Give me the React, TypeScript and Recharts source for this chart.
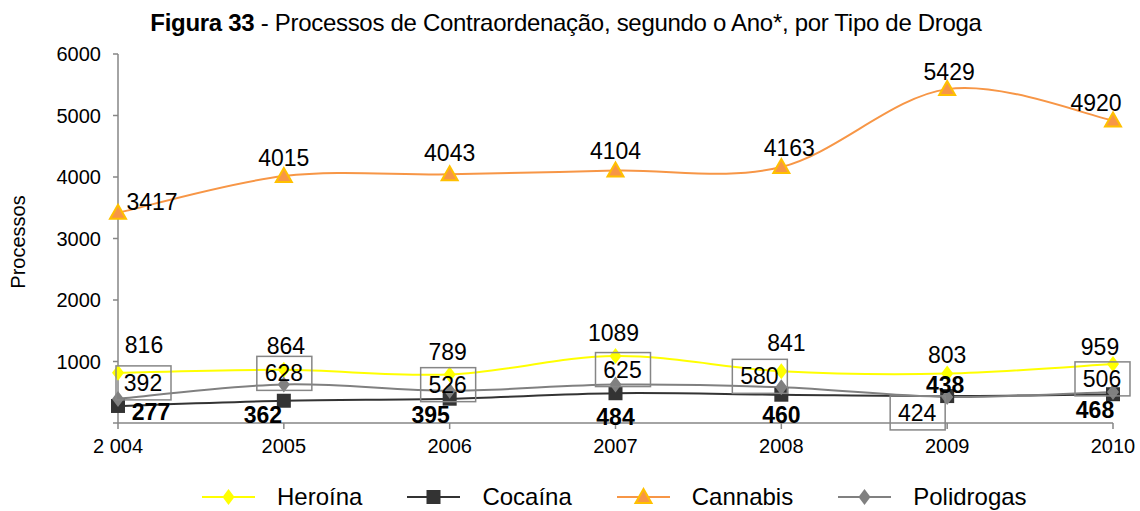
import React from 'react';
import { LineChart, Line, XAxis, YAxis, LabelList } from 'recharts';

const years = ['2 004', '2005', '2006', '2007', '2008', '2009', '2010'];
const heroina = [816, 864, 789, 1089, 841, 803, 959];
const cocaina = [277, 362, 395, 484, 460, 438, 468];
const cannabis = [3417, 4015, 4043, 4104, 4163, 5429, 4920];
const polidrogas = [392, 628, 526, 625, 580, 424, 506];
const yTicks = [0, 1000, 2000, 3000, 4000, 5000, 6000];

const rows = years.map((year, i) => ({
  year,
  heroina: heroina[i],
  cocaina: cocaina[i],
  cannabis: cannabis[i],
  polidrogas: polidrogas[i],
}));

// label placement relative to each point (dx, dy of text centre)
const heroinaOff: [number, number][] = [[26, -28], [2, -24], [-2, -22], [-2, -23], [5, -28], [0, -19], [-13, -17]];
const cocainaOff: [number, number][] = [[33, 6], [-21, 14], [-19, 16], [0, 24], [0, 20], [-2, -11], [-18, 16]];
const cannabisOff: [number, number][] = [[34, -11], [0, -18], [0, -21], [0, -20], [8, -19], [2, -17], [-17, -17]];
const polidrogasOff: [number, number][] = [[25, -16], [0, -11], [-2, -6], [7, -15], [-22, -11], [-30, 16], [-11, -13]];

const FONT = '"Liberation Sans", Arial, Helvetica, sans-serif';

// Excel-like smoothed line (Catmull-Rom through the points)
function smoothCurve(context: any) {
  let pts: [number, number][] = [];
  return {
    areaStart() {},
    areaEnd() {},
    lineStart() {
      pts = [];
    },
    point(x: number, y: number) {
      pts.push([+x, +y]);
    },
    lineEnd() {
      const n = pts.length;
      if (!n) return;
      context.moveTo(pts[0][0], pts[0][1]);
      for (let i = 0; i < n - 1; i++) {
        const p0 = pts[Math.max(i - 1, 0)];
        const p1 = pts[i];
        const p2 = pts[i + 1];
        const p3 = pts[Math.min(i + 2, n - 1)];
        context.bezierCurveTo(
          p1[0] + (p2[0] - p0[0]) / 6,
          p1[1] + (p2[1] - p0[1]) / 6,
          p2[0] - (p3[0] - p1[0]) / 6,
          p2[1] - (p3[1] - p1[1]) / 6,
          p2[0],
          p2[1],
        );
      }
    },
  };
}

const diamond = (cx: number, cy: number, fill: string, key?: any) => (
  <path key={key} d={`M${cx},${cy - 8}L${cx + 6},${cy}L${cx},${cy + 8}L${cx - 6},${cy}Z`} fill={fill} />
);
const square = (cx: number, cy: number, fill: string, key?: any) => (
  <rect key={key} x={cx - 7} y={cy - 7} width={14} height={14} fill={fill} />
);
const triangle = (cx: number, cy: number, key?: any) => (
  <path
    key={key}
    d={`M${cx},${cy - 8}L${cx + 8},${cy + 6}L${cx - 8},${cy + 6}Z`}
    fill="#F79646"
    stroke="#FFC000"
    strokeWidth={2}
  />
);

function pos(props: any) {
  const vb = props.viewBox || {};
  const x = props.x ?? vb.x + (vb.width || 0) / 2;
  const y = props.y ?? vb.y + (vb.height || 0) / 2;
  return [x, y];
}

const plainLabel = (offs: [number, number][], bold = false) => (props: any) => {
  const [x, y] = pos(props);
  const [dx, dy] = offs[props.index] || [0, 0];
  return (
    <text
      x={x + dx}
      y={y + dy}
      textAnchor="middle"
      dominantBaseline="central"
      fontFamily={FONT}
      fontSize={23}
      fontWeight={bold ? 'bold' : 'normal'}
      fill="#000"
    >
      {props.value}
    </text>
  );
};

const boxLabel = (offs: [number, number][]) => (props: any) => {
  const [x, y] = pos(props);
  const [dx, dy] = offs[props.index] || [0, 0];
  const cx = x + dx;
  const cy = y + dy;
  return (
    <g>
      <rect x={cx - 27} y={cy - 17} width={55} height={34} fill="none" stroke="#868686" strokeWidth={1.5} />
      <text x={cx} y={cy} textAnchor="middle" dominantBaseline="central" fontFamily={FONT} fontSize={23} fill="#000">
        {props.value}
      </text>
    </g>
  );
};

const legendItems = [
  { name: 'Heroína', color: '#FFFF00', mark: (cx: number, cy: number) => diamond(cx, cy, '#FFFF00') },
  { name: 'Cocaína', color: '#333333', mark: (cx: number, cy: number) => square(cx, cy, '#333333') },
  { name: 'Cannabis', color: '#F79646', mark: (cx: number, cy: number) => triangle(cx, cy) },
  { name: 'Polidrogas', color: '#808080', mark: (cx: number, cy: number) => diamond(cx, cy, '#808080') },
];

export default function App() {
  return (
    <div style={{ position: 'absolute', left: 0, top: 0, width: 1140, height: 511, background: '#fff', fontFamily: FONT }}>
      <div
        style={{
          position: 'absolute',
          left: 0,
          top: 9,
          width: 1132,
          textAlign: 'center',
          fontSize: 24,
          lineHeight: '28px',
          color: '#000',
          letterSpacing: -0.3,
        }}
      >
        <b>Figura 33</b> - Processos de Contraordenação, segundo o Ano*, por Tipo de Droga
      </div>
      <div
        style={{
          position: 'absolute',
          left: 18,
          top: 242,
          transform: 'translate(-50%, -50%) rotate(-90deg)',
          fontSize: 20,
          whiteSpace: 'nowrap',
          color: '#000',
        }}
      >
        Processos
      </div>
      <LineChart width={1140} height={511} data={rows} margin={{ top: 54, right: 27, left: 58, bottom: 58 }}>
        <XAxis
          dataKey="year"
          height={30}
          tick={{ fill: '#000', fontSize: 20, fontFamily: FONT }}
          axisLine={{ stroke: '#868686', strokeWidth: 1.5 }}
          tickLine={{ stroke: '#868686', strokeWidth: 1.5 }}
          tickSize={6}
          tickMargin={10}
          interval={0}
        />
        <YAxis
          width={60}
          domain={[0, 6000]}
          ticks={yTicks}
          tickFormatter={(v) => (v === 0 ? '' : String(v))}
          tick={{ fill: '#000', fontSize: 20, fontFamily: FONT }}
          axisLine={{ stroke: '#868686', strokeWidth: 1.5 }}
          tickLine={{ stroke: '#868686', strokeWidth: 1.5 }}
          tickSize={5}
          tickMargin={12}
        />
        <Line
          dataKey="heroina"
          type={smoothCurve as any}
          stroke="#FFFF00"
          strokeWidth={2}
          isAnimationActive={false}
          dot={(p: any) => diamond(p.cx, p.cy, '#FFFF00', `h${p.index}`)}
          activeDot={false}
        >
          <LabelList dataKey="heroina" content={plainLabel(heroinaOff)} />
        </Line>
        <Line
          dataKey="cocaina"
          type={smoothCurve as any}
          stroke="#333333"
          strokeWidth={2}
          isAnimationActive={false}
          dot={(p: any) => square(p.cx, p.cy, '#333333', `c${p.index}`)}
          activeDot={false}
        >
          <LabelList dataKey="cocaina" content={plainLabel(cocainaOff, true)} />
        </Line>
        <Line
          dataKey="cannabis"
          type={smoothCurve as any}
          stroke="#F79646"
          strokeWidth={2}
          isAnimationActive={false}
          dot={(p: any) => triangle(p.cx, p.cy, `a${p.index}`)}
          activeDot={false}
        >
          <LabelList dataKey="cannabis" content={plainLabel(cannabisOff)} />
        </Line>
        <Line
          dataKey="polidrogas"
          type={smoothCurve as any}
          stroke="#808080"
          strokeWidth={2}
          isAnimationActive={false}
          dot={(p: any) => diamond(p.cx, p.cy, '#808080', `p${p.index}`)}
          activeDot={false}
        >
          <LabelList dataKey="polidrogas" content={boxLabel(polidrogasOff)} />
        </Line>
      </LineChart>
      <div style={{ position: 'absolute', left: 202, top: 483, display: 'flex', alignItems: 'center', height: 28 }}>
        {legendItems.map((it) => (
          <div key={it.name} style={{ display: 'flex', alignItems: 'center', marginRight: 45 }}>
            <svg width={53} height={20} style={{ marginRight: 22 }}>
              <line x1={0} y1={10} x2={53} y2={10} stroke={it.color} strokeWidth={2} />
              {it.mark(26.5, 10)}
            </svg>
            <span style={{ fontSize: 24, color: '#000' }}>{it.name}</span>
          </div>
        ))}
      </div>
    </div>
  );
}
